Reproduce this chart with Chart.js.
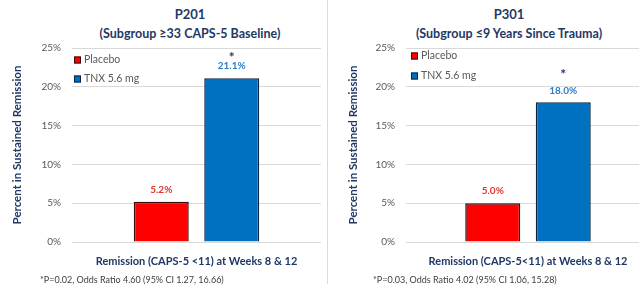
<!DOCTYPE html>
<html>
<head>
<meta charset="utf-8">
<script src="https://cdn.jsdelivr.net/npm/chart.js@4/dist/chart.umd.min.js"></script>
<style>
  body { margin: 0; width: 639px; height: 288px; overflow: hidden; background: #fff; position: relative; font-family: Lato, "Open Sans", sans-serif; }
  .painel { position: absolute; top: 0; height: 288px; }
  #p1 { left: 0; width: 325px; }
  #p2 { left: 330px; width: 320px; }
  .divisor { position: absolute; left: 327px; top: 0; width: 1px; height: 284px; background: #dcdcdc; }
  .titulo { position: absolute; transform: translateX(-50%); white-space: nowrap; color: #1f3864; font-weight: bold; text-align: center; line-height: 1; }
  .t1 { top: 8px; font-size: 13px; }
  .t2 { top: 28px; font-size: 12.5px; }
  .nota { position: absolute; top: 275px; font-size: 9px; color: #404040; white-space: nowrap; line-height: 1; }
</style>
</head>
<body>
<div class="titulo t1" style="left:190px">P201</div>
<div class="titulo t2" style="left:190px">(Subgroup ≥33 CAPS-5 Baseline)</div>
<div class="titulo t1" style="left:509px">P301</div>
<div class="titulo t2" style="left:509px">(Subgroup ≤9 Years Since Trauma)</div>

<div class="painel" id="p1"><canvas id="graficoP201" width="325" height="288"></canvas></div>
<div class="divisor"></div>
<div class="painel" id="p2"><canvas id="graficoP301" width="320" height="288"></canvas></div>

<div class="nota" style="left:40px">*P=0.02, Odds Ratio 4.60 (95% CI 1.27, 16.66)</div>
<div class="nota" style="left:373px">*P=0.03, Odds Ratio 4.02 (95% CI 1.06, 15.28)</div>

<script>
// dados
const series = ["Placebo", "TNX 5.6 mg"];
const categoriaP201 = ["Remission (CAPS-5 <11) at Weeks 8 & 12"];
const categoriaP301 = ["Remission (CAPS-5<11) at Weeks 8 & 12"];
const placeboP201 = [5.2];
const tnxP201 = [21.1];
const placeboP301 = [5.0];
const tnxP301 = [18.0];
const ticksY = [0, 5, 10, 15, 20, 25];
const tituloY = "Percent in Sustained Remission";

const NAVY = "#1f3864";
const FONTE = "Lato, 'Open Sans', sans-serif";

// legenda desenhada dentro da area do grafico (canto superior esquerdo)
const legendaInterna = {
  id: "legendaInterna",
  afterDraw(chart, args, opts) {
    const { ctx, chartArea } = chart;
    ctx.save();
    chart.data.datasets.forEach((ds, i) => {
      const x = chartArea.left + opts.left;
      const y = chartArea.top + opts.top + i * opts.gap;
      ctx.fillStyle = ds.backgroundColor;
      ctx.fillRect(x, y - 3.5, 7, 7);
      ctx.strokeStyle = ds.borderColor;
      ctx.lineWidth = 1;
      ctx.strokeRect(x + 0.5, y - 3, 6, 6);
      ctx.fillStyle = "#595959";
      ctx.font = "10.5px " + FONTE;
      ctx.textAlign = "left";
      ctx.textBaseline = "middle";
      ctx.fillText(ds.label, x + 10, y);
    });
    ctx.restore();
  }
};

// rotulos de valor e asterisco acima das barras
const rotulos = {
  id: "rotulos",
  afterDatasetsDraw(chart, args, opts) {
    const { ctx } = chart;
    ctx.save();
    ctx.textAlign = "center";
    ctx.textBaseline = "middle";
    chart.data.datasets.forEach((ds, i) => {
      const meta = chart.getDatasetMeta(i);
      meta.data.forEach((barra, j) => {
        ctx.fillStyle = ds.corRotulo;
        ctx.font = "bold 10px " + FONTE;
        ctx.fillText(ds.data[j].toFixed(1) + "%", barra.x, barra.y - 12);
        if (ds.asterisco) {
          ctx.fillStyle = NAVY;
          ctx.font = "bold 14px " + FONTE;
          ctx.fillText("*", barra.x, barra.y - opts.distAsterisco + 3);
        }
      });
    });
    ctx.restore();
  }
};

function gerarGrafico(id, categorias, placebo, tnx, cfg) {
  const ctx = document.getElementById(id).getContext("2d");
  new Chart(ctx, {
    type: "bar",
    data: {
      labels: categorias,
      datasets: [
        {
          label: series[0],
          data: placebo,
          backgroundColor: "#ff0000",
          borderColor: "#3a0a0a",
          borderWidth: 1.5,
          corRotulo: "#e8332a",
          asterisco: false
        },
        {
          label: series[1],
          data: tnx,
          backgroundColor: "#0070c0",
          borderColor: "#0c2340",
          borderWidth: 1.5,
          corRotulo: "#2e7cc4",
          asterisco: true
        }
      ]
    },
    options: {
      responsive: false,
      animation: false,
      layout: { padding: { left: 0, right: cfg.direita, top: 48, bottom: 14 } },
      datasets: { bar: { categoryPercentage: cfg.catPct, barPercentage: 0.78 } },
      plugins: {
        legend: { display: false },
        tooltip: { enabled: false },
        legendaInterna: { left: cfg.legX, top: cfg.legY, gap: cfg.legGap },
        rotulos: { distAsterisco: cfg.ast }
      },
      scales: {
        x: {
          grid: { display: false },
          border: { display: false },
          ticks: {
            color: NAVY,
            font: { family: FONTE, size: 11, weight: "bold" },
            padding: 5,
            maxRotation: 0,
            autoSkip: false
          },
          afterFit(s) { s.height = 32; }
        },
        y: {
          min: 0,
          max: 25,
          afterBuildTicks(s) { s.ticks = ticksY.map(v => ({ value: v })); },
          ticks: {
            color: "#595959",
            font: { family: FONTE, size: 10 },
            padding: 11,
            callback: v => v + "%"
          },
          grid: { color: "#d9d9d9", drawTicks: false },
          border: { display: false },
          title: {
            display: true,
            text: tituloY,
            color: NAVY,
            font: { family: FONTE, size: 11.5, weight: "bold" },
            padding: { top: cfg.tituloPad, bottom: 0 }
          },
          afterFit(s) { s.width = cfg.larguraY; }
        }
      }
    },
    plugins: [legendaInterna, rotulos]
  });
}

window.addEventListener("DOMContentLoaded", () => {
  gerarGrafico("graficoP201", categoriaP201, placeboP201, tnxP201,
    { direita: 4, larguraY: 72, catPct: 0.566, legX: 2, legY: 12, legGap: 19, ast: 24, tituloPad: 10 });
  gerarGrafico("graficoP301", categoriaP301, placeboP301, tnxP301,
    { direita: 0, larguraY: 76, catPct: 0.578, legX: 5, legY: 8, legGap: 20, ast: 31, tituloPad: 16 });
});
</script>
</body>
</html>
